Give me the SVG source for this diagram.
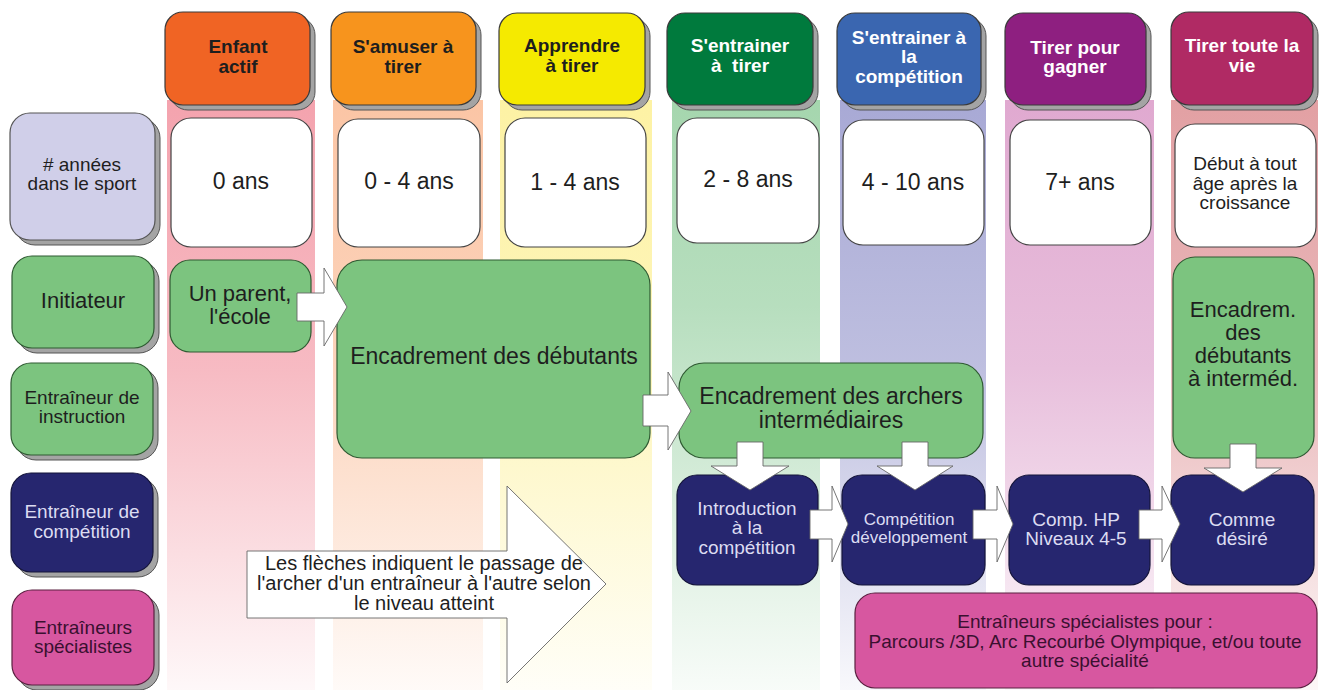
<svg xmlns="http://www.w3.org/2000/svg" width="1320" height="690" viewBox="0 0 1320 690">
  <defs>
    <linearGradient id="gPink" x1="0" y1="0" x2="0" y2="1">
      <stop offset="0" stop-color="#f4a3ae"/><stop offset="0.45" stop-color="#f4a3ae" stop-opacity="0.75"/><stop offset="1" stop-color="#f4a3ae" stop-opacity="0.08"/>
    </linearGradient>
    <linearGradient id="gPeach" x1="0" y1="0" x2="0" y2="1">
      <stop offset="0" stop-color="#fbc5a5"/><stop offset="0.45" stop-color="#fbc5a5" stop-opacity="0.75"/><stop offset="1" stop-color="#fbc5a5" stop-opacity="0.08"/>
    </linearGradient>
    <linearGradient id="gYellow" x1="0" y1="0" x2="0" y2="1">
      <stop offset="0" stop-color="#fdf2a4"/><stop offset="0.45" stop-color="#fdf2a4" stop-opacity="0.75"/><stop offset="1" stop-color="#fdf2a4" stop-opacity="0.08"/>
    </linearGradient>
    <linearGradient id="gGreen" x1="0" y1="0" x2="0" y2="1">
      <stop offset="0" stop-color="#a5d6ae"/><stop offset="0.35" stop-color="#a5d6ae" stop-opacity="0.8"/><stop offset="1" stop-color="#a5d6ae" stop-opacity="0.08"/>
    </linearGradient>
    <linearGradient id="gLav" x1="0" y1="0" x2="0" y2="1">
      <stop offset="0" stop-color="#a8a9d5"/><stop offset="0.45" stop-color="#a8a9d5" stop-opacity="0.75"/><stop offset="1" stop-color="#a8a9d5" stop-opacity="0.08"/>
    </linearGradient>
    <linearGradient id="gOrchid" x1="0" y1="0" x2="0" y2="1">
      <stop offset="0" stop-color="#e0a9d0"/><stop offset="0.45" stop-color="#e0a9d0" stop-opacity="0.75"/><stop offset="1" stop-color="#e0a9d0" stop-opacity="0.08"/>
    </linearGradient>
    <linearGradient id="gRose" x1="0" y1="0" x2="0" y2="1">
      <stop offset="0" stop-color="#e2a0a3"/><stop offset="0.45" stop-color="#e2a0a3" stop-opacity="0.75"/><stop offset="1" stop-color="#e2a0a3" stop-opacity="0.08"/>
    </linearGradient>
  </defs>
  <style>
    text { font-family: "Liberation Sans", Arial, sans-serif; text-anchor: middle; fill: #1e1e1e; }
    .hd { font-weight: bold; font-size: 19px; }
    .hdw { fill: #ffffff; }
    .shadow { fill: #a4a4a4; stroke: #555; stroke-width: 1; }
    .box { stroke: #3a3a3a; stroke-width: 1.2; }
    .white { fill: #ffffff; stroke: #444; stroke-width: 1.2; }
    .green { fill: #7cc47f; stroke: #2f5a32; stroke-width: 1.2; }
    .navy { fill: #26266f; stroke: #15153a; stroke-width: 1.2; }
    .mag { fill: #d757a0; stroke: #5a2040; stroke-width: 1.2; }
    .lav { fill: #d0cfe9; stroke: #555; stroke-width: 1.2; }
    .t23 { font-size: 23px; }
    .t22 { font-size: 22px; }
    .t19 { font-size: 19px; }
    .t17 { font-size: 17px; }
    .t20 { font-size: 20px; }
    .lt { fill: #dcdcf2; }
    .dk { fill: #3a1030; }
    .arrow { fill: #ffffff; stroke: #666; stroke-width: 0.9; stroke-linejoin: miter; }
  </style>

  <!-- column stripes -->
  <g id="stripes">
    <rect x="167" y="100" width="148" height="590" fill="url(#gPink)"/>
    <rect x="333" y="100" width="150" height="590" fill="url(#gPeach)"/>
    <rect x="500" y="100" width="152" height="590" fill="url(#gYellow)"/>
    <rect x="672" y="100" width="148" height="590" fill="url(#gGreen)"/>
    <rect x="840" y="100" width="146" height="590" fill="url(#gLav)"/>
    <rect x="1005" y="100" width="149" height="590" fill="url(#gOrchid)"/>
    <rect x="1171" y="100" width="147" height="590" fill="url(#gRose)"/>
  </g>

  <!-- stage headers -->
  <g id="h-enfant">
    <rect class="shadow" x="170" y="17" width="145" height="93" rx="18"/>
    <rect class="box" fill="#f06424" x="165" y="12" width="145" height="93" rx="18"/>
    <text class="hd" x="238" y="53">Enfant</text>
    <text class="hd" x="238" y="73">actif</text>
  </g>
  <g id="h-amuser">
    <rect class="shadow" x="336" y="17" width="145" height="93" rx="18"/>
    <rect class="box" fill="#f7941d" x="331" y="12" width="145" height="93" rx="18"/>
    <text class="hd" x="403" y="53">S'amuser à</text>
    <text class="hd" x="403" y="73">tirer</text>
  </g>
  <g id="h-apprendre">
    <rect class="shadow" x="504" y="18" width="146" height="92" rx="18"/>
    <rect class="box" fill="#f5ea00" x="499" y="13" width="146" height="92" rx="18"/>
    <text class="hd" x="572" y="52">Apprendre</text>
    <text class="hd" x="572" y="72">à tirer</text>
  </g>
  <g id="h-entrainer">
    <rect class="shadow" x="672" y="18" width="146" height="92" rx="18"/>
    <rect class="box" fill="#007a3d" x="667" y="13" width="146" height="92" rx="18"/>
    <text class="hd hdw" x="740" y="52">S'entrainer</text>
    <text class="hd hdw" x="740" y="72" xml:space="preserve">à  tirer</text>
  </g>
  <g id="h-competition">
    <rect class="shadow" x="842" y="18" width="144" height="92" rx="18"/>
    <rect class="box" fill="#3a66b0" x="837" y="13" width="144" height="92" rx="18"/>
    <text class="hd hdw" x="909" y="44">S'entrainer à</text>
    <text class="hd hdw" x="909" y="63">la</text>
    <text class="hd hdw" x="909" y="83">compétition</text>
  </g>
  <g id="h-gagner">
    <rect class="shadow" x="1010" y="18" width="141" height="92" rx="18"/>
    <rect class="box" fill="#8e1f80" x="1005" y="13" width="141" height="92" rx="18"/>
    <text class="hd hdw" x="1075" y="54">Tirer pour</text>
    <text class="hd hdw" x="1075" y="73">gagner</text>
  </g>
  <g id="h-vie">
    <rect class="shadow" x="1176" y="17" width="142" height="93" rx="18"/>
    <rect class="box" fill="#b02a64" x="1171" y="12" width="142" height="93" rx="18"/>
    <text class="hd hdw" x="1242" y="52">Tirer toute la</text>
    <text class="hd hdw" x="1242" y="72">vie</text>
  </g>

  <!-- years in the sport -->
  <g id="y-enfant"><rect class="white" x="171" y="118" width="141" height="129" rx="20"/><text class="t23" x="241" y="189">0 ans</text></g>
  <g id="y-amuser"><rect class="white" x="338" y="119" width="142" height="128" rx="20"/><text class="t23" x="409" y="189">0 - 4 ans</text></g>
  <g id="y-apprendre"><rect class="white" x="505" y="118" width="141" height="129" rx="20"/><text class="t23" x="575" y="190">1 - 4 ans</text></g>
  <g id="y-entrainer"><rect class="white" x="677" y="118" width="142" height="125" rx="20"/><text class="t23" x="748" y="187">2 - 8 ans</text></g>
  <g id="y-competition"><rect class="white" x="843" y="120" width="141" height="125" rx="20"/><text class="t23" x="913" y="190">4 - 10 ans</text></g>
  <g id="y-gagner"><rect class="white" x="1010" y="120" width="141" height="125" rx="20"/><text class="t23" x="1080" y="190">7+ ans</text></g>
  <g id="y-vie">
    <rect class="white" x="1175" y="124" width="141" height="123" rx="20"/>
    <text class="t19" x="1245" y="170">Début à tout</text>
    <text class="t19" x="1245" y="190">âge après la</text>
    <text class="t19" x="1245" y="209">croissance</text>
  </g>

  <!-- row labels -->
  <g id="r-annees">
    <rect class="shadow" x="15" y="118" width="145" height="127" rx="20"/>
    <rect class="lav" x="10" y="113" width="145" height="127" rx="20"/>
    <text class="t19" x="82" y="171" fill="#333">#&#160;années</text>
    <text class="t19" x="82" y="190">dans le sport</text>
  </g>
  <g id="r-initiateur">
    <rect class="shadow" x="17" y="261" width="142" height="92" rx="20"/>
    <rect class="green" x="12" y="256" width="142" height="92" rx="20"/>
    <text class="t22" x="83" y="308">Initiateur</text>
  </g>
  <g id="r-instruction">
    <rect class="shadow" x="16" y="368" width="142" height="92" rx="20"/>
    <rect class="green" x="11" y="363" width="142" height="92" rx="20"/>
    <text class="t19" x="82" y="404">Entraîneur de</text>
    <text class="t19" x="82" y="423">instruction</text>
  </g>
  <g id="r-competition">
    <rect class="shadow" x="16" y="478" width="142" height="99" rx="20"/>
    <rect class="navy" x="11" y="473" width="142" height="99" rx="20"/>
    <text class="t19 lt" x="82" y="518">Entraîneur de</text>
    <text class="t19 lt" x="82" y="538">compétition</text>
  </g>
  <g id="r-specialistes">
    <rect class="shadow" x="17" y="595" width="142" height="95" rx="20"/>
    <rect class="mag" x="12" y="590" width="142" height="95" rx="20"/>
    <text class="t19 dk" x="83" y="634">Entraîneurs</text>
    <text class="t19 dk" x="83" y="653">spécialistes</text>
  </g>

  <!-- coaching levels -->
  <g id="n-parent">
    <rect class="green" x="170" y="260" width="141" height="92" rx="20"/>
    <text class="t22" x="240" y="301">Un parent,</text>
    <text class="t22" x="240" y="324">l'école</text>
  </g>
  <g id="n-debutants">
    <rect class="green" x="337" y="260" width="313" height="198" rx="25"/>
    <text class="t23" x="494" y="364">Encadrement des débutants</text>
  </g>
  <g id="n-intermediaires">
    <rect class="green" x="679" y="363" width="304" height="95" rx="25"/>
    <text class="t23" x="831" y="404">Encadrement des archers</text>
    <text class="t23" x="831" y="428">intermédiaires</text>
  </g>
  <g id="n-encadrem">
    <rect class="green" x="1173" y="257" width="141" height="201" rx="22"/>
    <text class="t22" x="1243" y="317">Encadrem.</text>
    <text class="t22" x="1243" y="340">des</text>
    <text class="t22" x="1243" y="363">débutants</text>
    <text class="t22" x="1243" y="386">à interméd.</text>
  </g>
  <g id="n-introduction">
    <rect class="navy" x="677" y="475" width="141" height="110" rx="20"/>
    <text class="t19 lt" x="747" y="515">Introduction</text>
    <text class="t19 lt" x="747" y="534">à la</text>
    <text class="t19 lt" x="747" y="554">compétition</text>
  </g>
  <g id="n-developpement">
    <rect class="navy" x="842" y="475" width="143" height="110" rx="20"/>
    <text class="t17 lt" x="909" y="525">Compétition</text>
    <text class="t17 lt" x="909" y="543">développement</text>
  </g>
  <g id="n-hp">
    <rect class="navy" x="1009" y="475" width="141" height="110" rx="20"/>
    <text class="t19 lt" x="1076" y="526">Comp. HP</text>
    <text class="t19 lt" x="1076" y="545">Niveaux 4-5</text>
  </g>
  <g id="n-desire">
    <rect class="navy" x="1171" y="475" width="143" height="110" rx="20"/>
    <text class="t19 lt" x="1242" y="526">Comme</text>
    <text class="t19 lt" x="1242" y="545">désiré</text>
  </g>
  <g id="n-specialistes">
    <rect class="mag" x="855" y="593" width="462" height="95" rx="20"/>
    <text class="t19 dk" x="1085" y="628">Entraîneurs spécialistes pour :</text>
    <text class="t19 dk" x="1085" y="648">Parcours /3D, Arc Recourbé Olympique, et/ou toute</text>
    <text class="t19 dk" x="1085" y="667">autre spécialité</text>
  </g>

  <!-- connectors: block arrows showing the archer's progression -->
  <g id="connectors">
    <path class="arrow" d="M297,293 H324 V268 L347,307 L324,346 V321 H297 Z"/>
    <path class="arrow" d="M643,395 H668 V372 L691,411 L668,450 V426 H643 Z"/>
    <path class="arrow" d="M737,442 H763 V466 H789 L750,490 L711,466 H737 Z"/>
    <path class="arrow" d="M902,442 H928 V466 H953 L915,490 L877,466 H902 Z"/>
    <path class="arrow" d="M1230,444 H1256 V468 H1282 L1243,492 L1204,468 H1230 Z"/>
    <path class="arrow" d="M810,510 H832 V486 L848,524 L832,562 V539 H810 Z"/>
    <path class="arrow" d="M973,510 H997 V486 L1013,524 L997,562 V539 H973 Z"/>
    <path class="arrow" d="M1139,510 H1162 V486 L1180,524 L1162,562 V539 H1139 Z"/>
  </g>

  <!-- legend arrow -->
  <g id="legend">
    <path class="arrow" d="M247,551 H507 V486 L606,584 L507,683 V618 H247 Z"/>
    <text class="t20" x="424" y="570">Les flèches indiquent le passage de</text>
    <text class="t20" x="424" y="590">l'archer d'un entraîneur à l'autre selon</text>
    <text class="t20" x="424" y="610">le niveau atteint</text>
  </g>
</svg>
